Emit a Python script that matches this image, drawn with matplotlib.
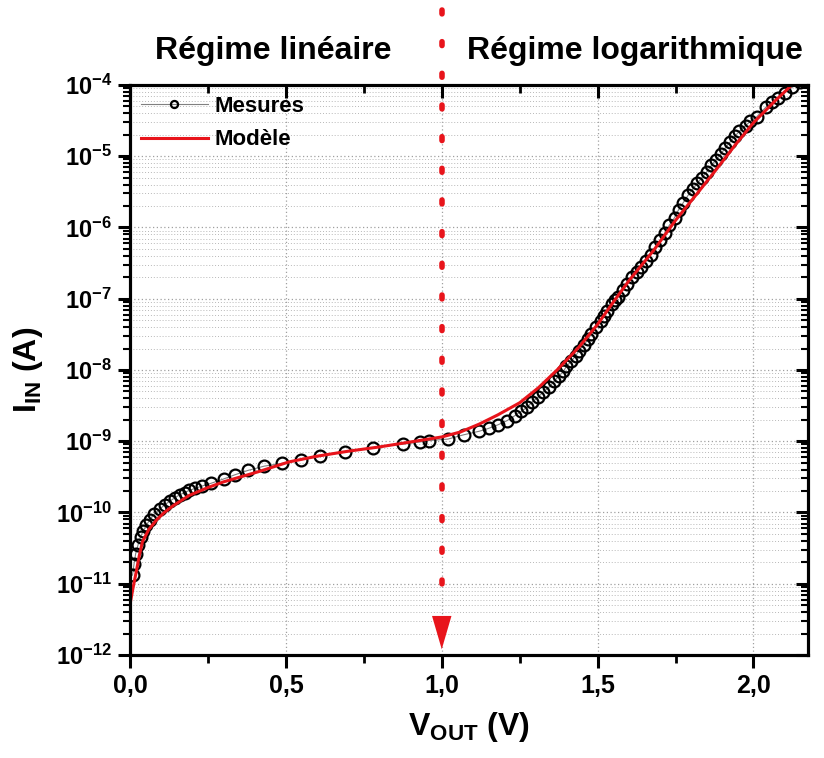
import matplotlib as mpl
mpl.use('Agg')

import matplotlib.pyplot as plt
import numpy as np
from matplotlib.patches import FancyArrowPatch
from matplotlib.ticker import FixedLocator, FixedFormatter, LogLocator, NullFormatter

plt.rcParams['font.family'] = ['Liberation Sans', 'DejaVu Sans']
plt.rcParams['font.weight'] = 'bold'
plt.rcParams['mathtext.fontset'] = 'custom'
plt.rcParams['mathtext.rm'] = 'Liberation Sans:bold'
plt.rcParams['mathtext.bf'] = 'Liberation Sans:bold'
plt.rcParams['mathtext.default'] = 'bf'

# measured points (V_OUT in V, log10 of I_IN in A)
v_mes = [0.008, 0.013, 0.018, 0.026, 0.034, 0.042, 0.052, 0.064, 0.078, 0.096,
         0.112, 0.128, 0.145, 0.16, 0.175, 0.19, 0.21, 0.23, 0.26, 0.30,
         0.337, 0.378, 0.43, 0.487, 0.55, 0.61, 0.69, 0.78, 0.875, 0.93,
         0.96, 1.02, 1.07, 1.12, 1.15, 1.18, 1.21, 1.235, 1.255, 1.275,
         1.29, 1.31, 1.325, 1.345, 1.36, 1.375, 1.39, 1.40, 1.415, 1.43,
         1.44, 1.455, 1.47, 1.48, 1.495, 1.51, 1.52, 1.53, 1.545, 1.555,
         1.565, 1.58, 1.595, 1.61, 1.625, 1.64, 1.655, 1.67, 1.685, 1.70,
         1.715, 1.73, 1.747, 1.76, 1.775, 1.79, 1.805, 1.82, 1.835, 1.85,
         1.865, 1.88, 1.895, 1.91, 1.925, 1.94, 1.955, 1.975, 1.99, 2.01,
         2.04, 2.06, 2.08, 2.10, 2.125, 2.15]
log_i_mes = [-10.88, -10.72, -10.58, -10.45, -10.34, -10.26, -10.18, -10.10, -10.02, -9.95,
             -9.89, -9.84, -9.79, -9.75, -9.72, -9.69, -9.66, -9.63, -9.59, -9.53,
             -9.47, -9.41, -9.35, -9.31, -9.26, -9.21, -9.15, -9.09, -9.04, -9.01,
             -8.99, -8.97, -8.91, -8.86, -8.82, -8.77, -8.71, -8.64, -8.58, -8.52,
             -8.45, -8.38, -8.31, -8.24, -8.16, -8.09, -8.02, -7.95, -7.88, -7.80,
             -7.73, -7.65, -7.57, -7.49, -7.40, -7.31, -7.24, -7.17, -7.08, -7.02,
             -6.98, -6.88, -6.79, -6.70, -6.62, -6.55, -6.47, -6.38, -6.28, -6.18,
             -6.08, -5.97, -5.86, -5.75, -5.65, -5.55, -5.46, -5.38, -5.30, -5.22,
             -5.13, -5.05, -4.97, -4.88, -4.80, -4.72, -4.65, -4.57, -4.51, -4.45,
             -4.31, -4.24, -4.18, -4.11, -4.03, -3.96]

# model curve
v_mod = [0.0, 0.01, 0.02, 0.03, 0.04, 0.06, 0.086, 0.11, 0.14, 0.19,
         0.25, 0.30, 0.41, 0.51, 0.60, 0.70, 0.80, 0.90, 1.00, 1.06,
         1.12, 1.18, 1.25, 1.31, 1.37, 1.44, 1.50, 1.55, 1.60, 1.68,
         1.75, 1.82, 1.88, 1.94, 2.00, 2.07, 2.14, 2.17]
log_i_mod = [-11.29, -11.05, -10.83, -10.60, -10.41, -10.24, -10.10, -10.0, -9.90, -9.76,
             -9.65, -9.57, -9.43, -9.29, -9.21, -9.14, -9.08, -9.01, -8.94, -8.87,
             -8.76, -8.63, -8.46, -8.25, -8.00, -7.68, -7.36, -7.05, -6.75, -6.32,
             -5.90, -5.52, -5.19, -4.85, -4.53, -4.22, -3.93, -3.82]

i_mes = 10 ** np.array(log_i_mes)
i_mod = 10 ** np.array(log_i_mod)

x_ticks = [0.0, 0.5, 1.0, 1.5, 2.0]
x_labels = ['0,0', '0,5', '1,0', '1,5', '2,0']
y_exps = [-12, -11, -10, -9, -8, -7, -6, -5, -4]
xlim = (0.0, 2.175)
ylim = (1e-12, 1e-4)
v_split = 1.0

fig = plt.figure(figsize=(8.24, 7.58), dpi=100)
ax = fig.add_axes([0.1578, 0.1359, 0.8228, 0.752])

ax.plot(v_mes, i_mes, color='#808080', lw=0.8, marker='o', mfc='none', mec='black',
        mew=1.6, ms=8.5, label='Mesures', zorder=3)
ax.plot(v_mod, i_mod, color='#e8141b', lw=2.2, label='Modèle', zorder=4)

ax.set_yscale('log')
ax.set_xlim(*xlim)
ax.set_ylim(*ylim)

ax.xaxis.set_major_locator(FixedLocator(x_ticks))
ax.xaxis.set_major_formatter(FixedFormatter(x_labels))
ax.xaxis.set_minor_locator(FixedLocator([0.25, 0.75, 1.25, 1.75]))
ax.yaxis.set_major_locator(FixedLocator([10.0 ** e for e in y_exps]))
ax.yaxis.set_major_formatter(FixedFormatter(['$10^{%d}$' % e for e in y_exps]))
ax.yaxis.set_minor_locator(LogLocator(base=10, subs=np.arange(2, 10), numticks=20))
ax.yaxis.set_minor_formatter(NullFormatter())

ax.tick_params(axis='x', which='major', direction='out', length=9, width=2.2, labelsize=18, pad=5)
ax.tick_params(axis='x', which='minor', direction='out', length=6, width=2.0)
ax.tick_params(axis='y', which='major', direction='out', length=9, width=2.2, labelsize=17, pad=4)
ax.tick_params(axis='y', which='minor', direction='out', length=5, width=1.5)
for lab in ax.get_xticklabels() + ax.get_yticklabels():
    lab.set_fontweight('bold')

for s in ax.spines.values():
    s.set_linewidth(2.2)

ax.grid(True, which='major', color='#a0a0a0', ls=(0, (1, 2)), lw=0.9)
ax.grid(True, which='minor', axis='y', color='#b8b8b8', ls=(0, (1, 2)), lw=0.7)

# top and right ticks pointing inward
axt = ax.twiny()
axt.set_xlim(*xlim)
axt.xaxis.set_major_locator(FixedLocator(x_ticks))
axt.xaxis.set_minor_locator(FixedLocator([0.25, 0.75, 1.25, 1.75]))
axt.tick_params(axis='x', which='major', direction='in', length=9, width=2.2, labeltop=False)
axt.tick_params(axis='x', which='minor', direction='in', length=6, width=2.0)
axr = ax.twinx()
axr.set_yscale('log')
axr.set_ylim(*ylim)
axr.yaxis.set_major_locator(FixedLocator([10.0 ** e for e in y_exps]))
axr.yaxis.set_minor_locator(LogLocator(base=10, subs=np.arange(2, 10), numticks=20))
axr.tick_params(axis='y', which='major', direction='in', length=9, width=2.2, labelright=False)
axr.tick_params(axis='y', which='minor', direction='in', length=5, width=1.5)
axr.yaxis.set_minor_formatter(NullFormatter())
for a in (axt, axr):
    for s in a.spines.values():
        s.set_linewidth(2.2)

ax.set_xlabel(r'$\mathbf{V_{OUT}}$ (V)', fontsize=23, fontweight='bold', labelpad=8)
ax.set_ylabel(r'$\mathbf{I_{IN}}$ (A)', fontsize=23, fontweight='bold', labelpad=8)

leg = ax.legend(loc='upper left', frameon=False, handlelength=3.0, markerscale=0.6,
                borderaxespad=0.1, handletextpad=0.3, labelspacing=0.55,
                prop={'weight': 'bold', 'size': 16})

# dashed separator with arrow at V = 1.0
ax.plot([v_split, v_split], [10 ** -2.95, 10 ** -11.3], color='#e8141b', lw=4.0,
        dashes=(0.7, 5.0), dash_capstyle='round', solid_capstyle='round',
        clip_on=False, zorder=6)
arr = FancyArrowPatch((v_split, 10 ** -11.42), (v_split, 10 ** -11.92),
                      arrowstyle='-|>,head_length=24,head_width=7', mutation_scale=1,
                      color='#e8141b', lw=0, shrinkA=0, shrinkB=0, zorder=6)
ax.add_patch(arr)

fig.text(273 / 824, 1 - 51 / 758, 'Régime linéaire', fontsize=23, fontweight='bold',
         ha='center', va='center')
fig.text(635 / 824, 1 - 51 / 758, 'Régime logarithmique', fontsize=23, fontweight='bold',
         ha='center', va='center')

fig.savefig('out.png', dpi=100)
